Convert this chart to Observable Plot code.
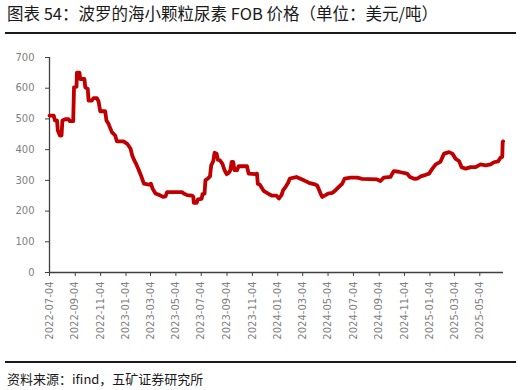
<!DOCTYPE html>
<html>
<head>
<meta charset="utf-8">
<script src="https://cdn.jsdelivr.net/npm/d3@7"></script>
<script src="https://cdn.jsdelivr.net/npm/@observablehq/plot@0.6"></script>
<style>
  html, body { margin: 0; padding: 0; background: #fff; }
  #wrap { position: relative; width: 523px; height: 390px; overflow: hidden; font-family: "Noto Sans CJK SC", sans-serif; }
  #title { position: absolute; left: 7px; top: 1px; font-size: 16.5px; color: #1a1a1a; white-space: nowrap; }
  .rule { position: absolute; left: 5px; width: 511px; height: 2px; background: #1a1a1a; }
  #foot { position: absolute; left: 7px; top: 369px; font-size: 13px; color: #1a1a1a; white-space: nowrap; }
  #chart { position: absolute; left: 0; top: 40px; }
</style>
</head>
<body>
<div id="wrap">
  <div id="title">图表 54：波罗的海小颗粒尿素 FOB 价格（单位：美元/吨）</div>
  <div class="rule" style="top:32px"></div>
  <div id="chart"></div>
  <div class="rule" style="top:361px"></div>
  <div id="foot">资料来源：ifind，五矿证券研究所</div>
</div>
<script>
const dates = [
  "2022-07-04","2022-07-14","2022-07-17","2022-07-22","2022-07-24","2022-07-29","2022-08-02","2022-08-04",
  "2022-08-11","2022-08-19","2022-08-22","2022-08-30","2022-09-01","2022-09-07","2022-09-08","2022-09-14",
  "2022-09-16","2022-09-26","2022-09-28","2022-10-04","2022-10-06","2022-10-14","2022-10-18","2022-10-26",
  "2022-10-30","2022-11-03","2022-11-15","2022-11-18","2022-11-23","2022-12-01","2022-12-09","2022-12-13",
  "2022-12-29","2023-01-07","2023-01-15","2023-01-19","2023-01-24","2023-01-29","2023-02-04","2023-02-09",
  "2023-02-16","2023-02-28","2023-03-05","2023-03-09","2023-03-16","2023-03-26","2023-04-03","2023-04-09",
  "2023-04-13","2023-05-19","2023-05-23","2023-05-31","2023-06-12","2023-06-15","2023-06-16","2023-06-23",
  "2023-06-26","2023-07-05","2023-07-07","2023-07-12","2023-07-14","2023-07-20","2023-07-25","2023-07-28",
  "2023-08-02","2023-08-05","2023-08-10","2023-08-13","2023-08-18","2023-08-24","2023-08-29","2023-09-03",
  "2023-09-08","2023-09-12","2023-09-15","2023-09-19","2023-09-22","2023-09-28","2023-10-02","2023-10-22",
  "2023-10-26","2023-11-11","2023-11-15","2023-11-17","2023-11-22","2023-12-01","2023-12-14","2023-12-22",
  "2024-01-01","2024-01-07","2024-01-13","2024-01-17","2024-01-23","2024-01-29","2024-02-02","2024-02-12",
  "2024-02-18","2024-02-26","2024-03-07","2024-03-19","2024-03-31","2024-04-08","2024-04-16","2024-04-20",
  "2024-04-28","2024-05-04","2024-05-14","2024-05-22","2024-05-30","2024-06-07","2024-06-13","2024-06-27",
  "2024-07-13","2024-07-25","2024-08-30","2024-09-07","2024-09-15","2024-10-01","2024-10-09","2024-10-21",
  "2024-11-02","2024-11-10","2024-11-17","2024-11-27","2024-12-05","2024-12-13","2024-12-25","2025-01-02",
  "2025-01-10","2025-01-18","2025-01-29","2025-02-07","2025-02-19","2025-02-27","2025-03-07","2025-03-15",
  "2025-03-21","2025-03-31","2025-04-12","2025-04-24","2025-05-06","2025-05-18","2025-05-30","2025-06-07",
  "2025-06-17","2025-06-23","2025-06-27","2025-06-28","2025-06-29"
];
const prices = [
  511,511,495,495,462,446,446,495,
  499,499,493,493,603,605,651,651,
  630,630,603,598,560,560,568,568,
  557,525,525,495,484,457,446,427,
  427,419,403,381,365,352,333,316,
  289,286,289,273,257,252,246,248,
  262,262,257,252,250,246,227,227,
  238,240,255,257,300,306,313,349,
  363,390,387,367,365,354,333,320,
  324,333,360,360,333,333,346,346,
  322,320,322,289,286,266,255,250,
  250,241,252,268,279,292,306,309,
  311,306,300,292,288,283,257,246,
  252,257,259,268,279,289,306,309,
  309,305,303,298,309,311,330,328,
  324,322,311,305,306,313,318,322,
  338,352,360,387,392,387,370,363,
  343,338,343,343,352,349,352,359,
  362,374,376,424,427
];
const xTicks = [
  "2022-07-04","2022-09-04","2022-11-04","2023-01-04","2023-03-04","2023-05-04",
  "2023-07-04","2023-09-04","2023-11-04","2024-01-04","2024-03-04","2024-05-04",
  "2024-07-04","2024-09-04","2024-11-04","2025-01-04","2025-03-04","2025-05-04"
];
const yTicks = [0, 100, 200, 300, 400, 500, 600, 700];

const parse = d3.utcParse("%Y-%m-%d");
const data = dates.map((d, i) => ({date: parse(d), price: prices[i]}));
const tickDates = xTicks.map(parse);
const fmt = d3.utcFormat("%Y-%m-%d");
const axisColor = "#404040";
const labelColor = "#7f7f7f";

const chart = Plot.plot({
  width: 523,
  height: 320,
  marginTop: 17,
  marginBottom: 88,
  marginLeft: 49,
  marginRight: 20,
  style: { fontFamily: "DejaVu Sans, sans-serif", fontSize: "10px", background: "transparent" },
  x: { type: "utc", domain: [parse("2022-07-04"), parse("2025-06-30")] },
  y: { domain: [0, 700] },
  marks: [
    Plot.axisY({ ticks: yTicks, tickSize: 4, tickPadding: 11, stroke: axisColor, color: labelColor, label: null, fontSize: 10 }),
    Plot.axisX({ ticks: tickDates, tickFormat: fmt, tickSize: 4, tickPadding: 5, tickRotate: -90, stroke: axisColor, color: labelColor, label: null, fontSize: 10 }),
    Plot.ruleX([parse("2022-07-04")], { y1: 0, y2: 700, stroke: axisColor, strokeWidth: 1.3 }),
    Plot.ruleY([0], { stroke: axisColor, strokeWidth: 1.3 }),
    Plot.line(data, { x: "date", y: "price", stroke: "#C00000", strokeWidth: 3.8, strokeLinejoin: "round" })
  ]
});
document.getElementById("chart").appendChild(chart);
</script>
</body>
</html>
